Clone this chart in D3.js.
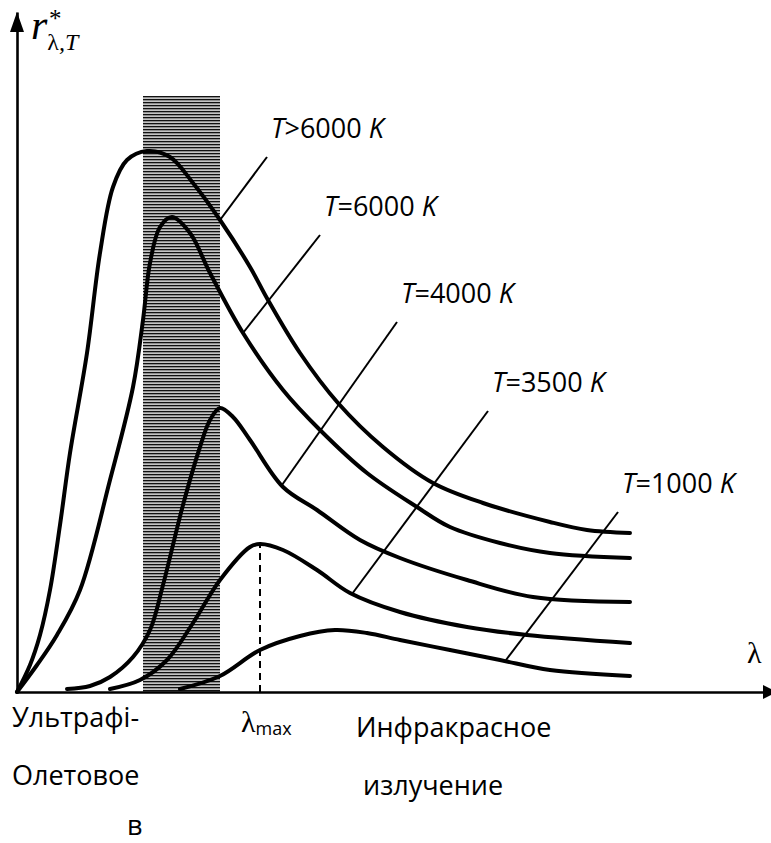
<!DOCTYPE html>
<html>
<head>
<meta charset="utf-8">
<script src="https://cdn.jsdelivr.net/npm/d3@7"></script>
<style>
  body { margin: 0; background: #fff; }
  text { font-family: "Open Sans", sans-serif; fill: #000; }
</style>
</head>
<body>
<div id="chart"></div>
<script>
// 1. Data (wavelength / spectral density in arbitrary units)
const curveT7000 = [[0,0],[13,27],[23,57],[33,102],[43,167],[53,239],[70,339],[83,439],[96,505],[110,532],[130,541],[153,535],[176,509],[203,472],[233,425],[251,392],[283,339],[321,289],[366,245],[416,209],[466,189],[533,170],[570,162],[613,159]];
const curveT6000 = [[0,0],[20,27],[40,57],[63,102],[93,212],[116,305],[126,372],[133,429],[143,465],[155,475],[173,459],[193,419],[226,359],[266,302],[303,262],[350,219],[400,185],[433,165],[483,149],[533,139],[613,134]];
const curveT4000 = [[50,3],[73,6],[93,15],[116,35],[133,62],[146,107],[166,187],[183,245],[193,272],[203,284],[216,275],[233,252],[266,205],[300,182],[343,152],[383,134],[450,112],[516,95],[613,90]];
const curveT3500 = [[93,3],[123,12],[150,32],[176,69],[203,112],[233,145],[243,148],[266,142],[300,122],[333,99],[383,80],[450,65],[510,57],[613,49]];
const curveT1000 = [[163,3],[203,16],[243,42],[283,56],[318,62],[350,59],[383,52],[433,42],[483,32],[533,22],[613,16]];

const curves = [curveT7000, curveT6000, curveT4000, curveT3500, curveT1000];

const labelSigns = [">", "=", "=", "=", "="];
const labelTemps = ["6000", "6000", "4000", "3500", "1000"];
// leader lines: from point on curve to label
const leaders = [
  [[203,472],[250,535]],
  [[226,359],[303,457]],
  [[265,207],[380,370]],
  [[335,98],[471,281]],
  [[489,32],[601,180]],
];

const visibleBand = [126, 203, 596]; // from, to, height
const lambdaMax = 243;

// 2. Dimensions
const dims = { width: 771, height: 843, left: 17, bottom: 692, top: 12 };

// 3. Container
const svg = d3.select("#chart").append("svg")
  .attr("width", dims.width)
  .attr("height", dims.height);

const defs = svg.append("defs");
const hatch = defs.append("pattern")
  .attr("id", "hatch")
  .attr("patternUnits", "userSpaceOnUse")
  .attr("width", 4)
  .attr("height", 3)
  .attr("y", 96);
hatch.append("rect").attr("width", 4).attr("height", 3).attr("fill", "#c4c4c4");
hatch.append("rect").attr("width", 4).attr("height", 1.3).attr("fill", "#111");

// 4. Scales
const xScale = d3.scaleLinear().domain([0, 760]).range([dims.left, dims.left + 760]);
const yScale = d3.scaleLinear().domain([0, 680]).range([dims.bottom, dims.top]);

// 5. Draw
svg.append("rect")
  .attr("x", xScale(visibleBand[0]))
  .attr("y", yScale(visibleBand[2]))
  .attr("width", xScale(visibleBand[1]) - xScale(visibleBand[0]))
  .attr("height", yScale(0) - yScale(visibleBand[2]))
  .attr("fill", "url(#hatch)");

const peak = curveT3500.reduce((a, b) => (b[1] > a[1] ? b : a));
svg.append("line")
  .attr("x1", xScale(lambdaMax)).attr("x2", xScale(lambdaMax))
  .attr("y1", yScale(0)).attr("y2", yScale(peak[1]))
  .attr("stroke", "#000")
  .attr("stroke-width", 2)
  .attr("stroke-dasharray", "7,5");

const lineGenerator = d3.line()
  .x((d) => xScale(d[0]))
  .y((d) => yScale(d[1]))
  .curve(d3.curveCatmullRom.alpha(0.5));

svg.append("g").selectAll("path")
  .data(curves)
  .join("path")
  .attr("d", lineGenerator)
  .attr("fill", "none")
  .attr("stroke", "#000")
  .attr("stroke-width", 4)
  .attr("stroke-linecap", "round");

svg.append("g").selectAll("line")
  .data(leaders)
  .join("line")
  .attr("x1", (d) => xScale(d[0][0]))
  .attr("y1", (d) => yScale(d[0][1]))
  .attr("x2", (d) => xScale(d[1][0]))
  .attr("y2", (d) => yScale(d[1][1]))
  .attr("stroke", "#000")
  .attr("stroke-width", 2);

const labels = svg.append("g").selectAll("text")
  .data(leaders)
  .join("text")
  .attr("x", (d) => xScale(d[1][0]) + 4)
  .attr("y", (d) => yScale(d[1][1]) - 19)
  .style("font-size", "27px");
labels.append("tspan").style("font-style", "italic").text("T");
labels.append("tspan").text((d, i) => labelSigns[i] + labelTemps[i] + " ");
labels.append("tspan").style("font-style", "italic").text("K");

// 6. Axes
svg.append("g")
  .attr("transform", `translate(0,${dims.bottom})`)
  .call(d3.axisBottom(xScale).ticks(0).tickSizeOuter(0));
svg.append("g")
  .attr("transform", `translate(${dims.left},0)`)
  .call(d3.axisLeft(yScale).ticks(0).tickSizeOuter(0));
svg.selectAll(".domain").attr("stroke", "#000").attr("stroke-width", 2.6);

svg.append("path")
  .attr("d", `M${dims.left},${dims.top} l-7,20 h14 z`)
  .attr("fill", "#000");
svg.append("path")
  .attr("d", `M${xScale(760)},${dims.bottom} l-14,-7 v14 z`)
  .attr("fill", "#000");

// axis titles
const yTitle = svg.append("text")
  .attr("x", 31)
  .attr("y", 39)
  .style("font-family", "'Liberation Serif', serif");
yTitle.append("tspan").style("font-style", "italic").style("font-size", "42px").text("r");
yTitle.append("tspan").attr("dy", 11).style("font-size", "24px").text("λ");
yTitle.append("tspan").style("font-size", "24px").style("font-style", "italic").text(",T");
svg.append("text")
  .attr("x", 49)
  .attr("y", 27)
  .style("font-family", "'Liberation Serif', serif")
  .style("font-size", "25px")
  .text("*");

svg.append("text")
  .attr("x", 747)
  .attr("y", 663)
  .style("font-family", "'Liberation Serif', serif")
  .style("font-size", "30px")
  .text("λ");

const lm = svg.append("text")
  .attr("x", xScale(lambdaMax) - 19)
  .attr("y", 732);
lm.append("tspan").style("font-family", "'Liberation Serif', serif").style("font-size", "30px").text("λ");
lm.append("tspan").attr("dy", 3).style("font-size", "18px").text("max");

const bottomTexts = [
  { t: "Ультрафі-", x: 12, y: 727 },
  { t: "Олетовое", x: 12, y: 785 },
  { t: "в", x: 127, y: 835 },
  { t: "Инфракрасное", x: 356, y: 737 },
  { t: "излучение", x: 363, y: 795 },
];
svg.append("g").selectAll("text")
  .data(bottomTexts)
  .join("text")
  .attr("x", (d) => d.x)
  .attr("y", (d) => d.y)
  .style("font-size", "27px")
  .text((d) => d.t);
</script>
</body>
</html>
